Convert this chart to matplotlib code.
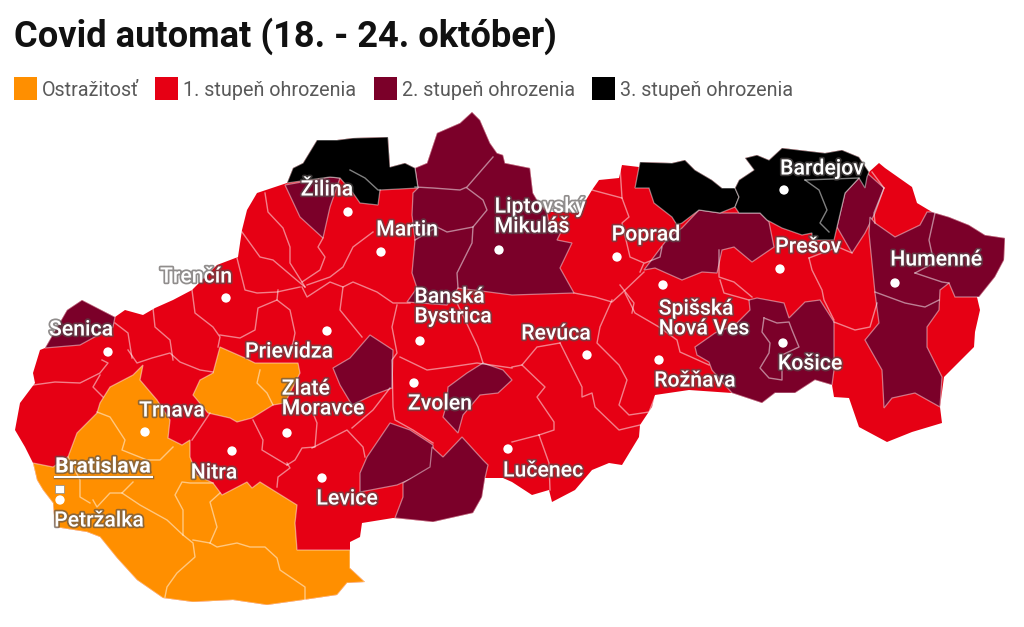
import matplotlib
matplotlib.use('Agg')
import matplotlib.pyplot as plt
import matplotlib.patheffects as pe
from matplotlib.patches import Polygon, Rectangle

plt.rcParams['font.family'] = ['Roboto', 'DejaVu Sans']

ORANGE = '#ff8f00'
RED = '#e60014'
DARK = '#7b0029'
BLACK = '#000000'

TITLE = 'Covid automat (18. - 24. október)'
LEGEND_LABELS = ['Ostražitosť', '1. stupeň ohrozenia', '2. stupeň ohrozenia', '3. stupeň ohrozenia']
LEGEND_COLORS = [ORANGE, RED, DARK, BLACK]
LEGEND_X = [14, 155, 374, 592]

# map outlines traced in image pixels
south_west = [(33, 463), (37, 480), (43, 490), (53, 503), (55, 527), (87, 532), (100, 537), (117, 558),
              (137, 580), (163, 598), (193, 602), (233, 600), (267, 605), (303, 600), (337, 595),
              (347, 583), (365, 582), (350, 568), (350, 550)]
south_centre = [(350, 542), (360, 537), (362, 523), (393, 518), (433, 522), (473, 513), (482, 497), (485, 478),
                (503, 478), (512, 482), (532, 495), (549, 490), (552, 502), (575, 490), (592, 470),
                (609, 463), (622, 465), (639, 437), (640, 425), (652, 407), (655, 395), (689, 390),
                (732, 393), (762, 403), (775, 393), (795, 393), (815, 380), (832, 385), (834, 397),
                (849, 398), (859, 427), (887, 442), (912, 432), (942, 423), (940, 407), (944, 377),
                (974, 347), (975, 332), (980, 310), (977, 297)]
east_north = [(979, 297), (995, 277), (1004, 260), (1005, 238), (985, 235), (969, 225), (949, 217),
              (932, 212), (917, 203), (912, 187), (885, 168), (879, 163), (869, 172), (859, 157),
              (842, 150), (825, 153), (782, 148), (769, 160), (757, 155), (745, 158), (754, 170),
              (739, 180), (735, 188), (722, 188), (712, 180), (695, 170), (685, 160), (672, 163),
              (640, 162), (639, 167), (622, 165), (619, 178), (599, 180), (592, 190), (583, 205),
              (578, 213), (565, 212), (549, 212), (540, 205), (533, 193), (530, 168), (505, 163), (503, 155),
              (497, 153), (490, 143), (480, 120), (472, 112), (460, 123), (437, 133), (427, 163),
              (415, 168), (405, 163), (390, 167), (388, 137), (353, 138), (337, 140),
              (317, 140), (303, 163), (293, 168), (287, 183)]
north_west = [(257, 193), (247, 210), (242, 230), (238, 257), (217, 265), (192, 290), (173, 300), (155, 308),
              (143, 315), (125, 310), (115, 317), (82, 300), (67, 310), (45, 348), (40, 350), (33, 373),
              (35, 383), (20, 403), (15, 430), (25, 447)]
COUNTRY = south_west + south_centre + east_north + north_west

ORANGE_AREAS = [
    [(143, 365), (140, 380), (157, 400), (170, 420), (168, 438), (182, 445), (190, 440), (190, 457), (197, 475),
     (213, 483), (222, 495), (247, 482), (252, 488), (260, 482), (297, 505), (295, 523), (297, 550)]
    + south_west[::-1]
    + [(53, 467), (68, 457), (77, 433), (97, 413), (100, 403), (110, 387), (133, 375)],
    [(220, 347), (245, 358), (255, 363), (298, 363), (300, 373), (285, 403), (273, 405), (252, 418), (237, 422),
     (230, 418), (208, 413), (193, 395), (200, 380), (213, 373)],
]
DARK_AREAS = [
    # Senica
    [(82, 300), (67, 310), (45, 348), (80, 345), (113, 327), (115, 317)],
    # Bytca
    [(285, 185), (330, 177), (340, 178), (330, 207), (323, 238), (300, 217)],
    # Orava and Liptov
    [(562, 230), (549, 225), (547, 212), (540, 205), (533, 193), (530, 168), (505, 163), (503, 155), (497, 153),
     (490, 143), (480, 120), (472, 112), (460, 123), (437, 133), (427, 163), (415, 168), (418, 188), (413, 193),
     (412, 215), (415, 240), (412, 273), (417, 288), (407, 302), (447, 305), (458, 288), (512, 295), (574, 293),
     (560, 268), (572, 243), (557, 240)],
    # Levoca, Sabinov
    [(682, 228), (699, 210), (720, 213), (739, 213), (760, 213), (769, 222), (774, 247), (752, 262), (734, 247),
     (722, 250), (717, 273), (702, 272), (682, 280), (655, 268), (644, 270), (659, 250), (669, 237)],
    # Stropkov
    [(859, 178), (867, 173), (884, 188), (875, 213), (865, 233), (852, 253), (837, 227), (845, 193)],
    # Humenne, Snina, Michalovce
    [(932, 212), (949, 217), (969, 225), (985, 235), (1005, 238), (1004, 260), (995, 277), (979, 297), (955, 297),
     (949, 283), (940, 290), (939, 310), (927, 327), (927, 347), (942, 377), (940, 407), (915, 393), (892, 398),
     (884, 408), (882, 370), (865, 340), (879, 323), (875, 293), (869, 233), (870, 217), (875, 223), (895, 237),
     (920, 225), (927, 212)],
    # Kosice okolie
    [(697, 355), (695, 347), (715, 333), (735, 325), (750, 310), (749, 300), (757, 298), (784, 303), (789, 318),
     (805, 302), (820, 300), (834, 322), (834, 370), (832, 385), (815, 380), (795, 393), (775, 393), (762, 403),
     (732, 393), (712, 370), (709, 362)],
    # Banska Stiavnica, Zarnovica
    [(333, 368), (350, 358), (370, 335), (393, 350), (392, 388), (373, 395), (352, 405), (340, 385)],
    # Krupina
    [(360, 473), (367, 457), (390, 423), (410, 430), (433, 445), (433, 467), (413, 478), (397, 485), (360, 492)],
    # Velky Krtis
    [(403, 483), (430, 467), (432, 447), (443, 457), (462, 437), (483, 460), (488, 465), (485, 478), (482, 497),
     (473, 513), (433, 522), (395, 518), (403, 497)],
    # Detva
    [(448, 387), (467, 373), (483, 363), (503, 370), (512, 380), (498, 393), (480, 395), (463, 415), (458, 433),
     (443, 417), (447, 403)],
]
BLACK_AREAS = [
    [(287, 183), (293, 168), (303, 163), (317, 140), (337, 140), (353, 138), (388, 137), (390, 167), (405, 163),
     (415, 168), (418, 188), (380, 190), (378, 205), (360, 203), (353, 193), (340, 178), (330, 177)],
    [(640, 162), (672, 163), (685, 160), (695, 170), (712, 180), (722, 188), (735, 188), (739, 197), (735, 207),
     (720, 213), (699, 210), (682, 223), (677, 225), (672, 217), (654, 203), (649, 188), (635, 188)],
    [(735, 188), (739, 180), (754, 170), (745, 158), (757, 155), (769, 160), (782, 148), (825, 153), (842, 150),
     (859, 157), (869, 172), (867, 177), (865, 188), (859, 178), (845, 193), (837, 227), (834, 240), (812, 240),
     (812, 233), (802, 235), (782, 228), (767, 220), (760, 213), (739, 213), (735, 207), (739, 197)],
]

BORDERS = [
    [(265, 193), (268, 212), (283, 228), (290, 247), (290, 263), (302, 282), (305, 287)],
    [(323, 238), (318, 247), (325, 257), (320, 270), (302, 282)],
    [(242, 232), (260, 257), (273, 260), (293, 277), (305, 287)],
    [(237, 258), (245, 290), (257, 293), (277, 292), (300, 287)],
    [(373, 232), (353, 247), (343, 267), (330, 277), (307, 285)],
    [(302, 287), (307, 297), (330, 282), (343, 287), (353, 282), (377, 292), (393, 303), (410, 303)],
    [(343, 287), (340, 310), (362, 337)],
    [(397, 305), (392, 327), (397, 353), (392, 360), (393, 407), (395, 420), (413, 430), (433, 443)],
    [(278, 290), (277, 300), (258, 308), (255, 330), (240, 338), (220, 335)],
    [(277, 300), (290, 310), (295, 333), (293, 343), (290, 350)],
    [(192, 290), (195, 313), (213, 327), (220, 337), (218, 347)],
    [(153, 308), (155, 327), (170, 340), (173, 360)],
    [(115, 323), (128, 333), (132, 358)],
    [(128, 350), (137, 363), (152, 358), (170, 353), (180, 362), (200, 370), (213, 372)],
    [(33, 385), (55, 382), (80, 383), (100, 373), (108, 363), (102, 360)],
    [(100, 375), (93, 387), (103, 397)],
    [(210, 413), (192, 440)],
    [(253, 420), (263, 440), (262, 450), (287, 465)],
    [(287, 465), (295, 460), (302, 448), (315, 447), (317, 423), (313, 413)],
    [(312, 448), (347, 430), (363, 447), (365, 457)],
    [(352, 428), (373, 410), (390, 388)],
    [(277, 487), (278, 477), (290, 468), (287, 463)],
    [(97, 412), (110, 417), (125, 440), (122, 450), (147, 460), (160, 460), (173, 447)],
    [(68, 457), (80, 480), (80, 497), (90, 503)],
    [(93, 500), (97, 507), (110, 493), (122, 493), (133, 482)],
    [(122, 493), (140, 505), (167, 520), (183, 535), (193, 543), (195, 557), (177, 573), (167, 587), (165, 597)],
    [(193, 540), (210, 543), (217, 547), (237, 543), (250, 547), (265, 547), (277, 558), (280, 570), (305, 587), (305, 600)],
    [(210, 543), (217, 527), (210, 502), (220, 493)],
    [(213, 483), (190, 483), (182, 482), (175, 495), (183, 510), (183, 535)],
    [(260, 370), (257, 383), (267, 393), (273, 405)],
    [(592, 190), (622, 198), (629, 217), (622, 223), (630, 257), (644, 263), (640, 272)],
    [(622, 198), (620, 167)],
    [(662, 247), (660, 257), (645, 263)],
    [(574, 293), (595, 297), (612, 302), (622, 293), (644, 272)],
    [(612, 300), (600, 327), (597, 343), (619, 365), (627, 380), (619, 405), (629, 415), (649, 412), (655, 397)],
    [(625, 293), (635, 313), (659, 327), (677, 340), (680, 352), (709, 365)],
    [(620, 285), (634, 303), (632, 313)],
    [(719, 250), (719, 277), (734, 282), (752, 297)],
    [(720, 280), (724, 293), (749, 300)],
    [(809, 258), (812, 270), (822, 290), (824, 300), (834, 320)],
    [(809, 258), (838, 247), (852, 253)],
    [(834, 322), (855, 330), (870, 327), (877, 303)],
    [(875, 292), (905, 303), (925, 307), (939, 300)],
    [(915, 273), (942, 282), (949, 283)],
    [(915, 273), (934, 263), (929, 240), (935, 213)],
    [(884, 188), (872, 172)],
    [(875, 223), (874, 213), (884, 188)],
    [(512, 367), (522, 365), (537, 347), (560, 343)],
    [(560, 343), (582, 387), (582, 397), (592, 393), (595, 407), (619, 430), (640, 425)],
    [(522, 365), (545, 387), (537, 397), (554, 422), (554, 430), (539, 435)],
    [(539, 435), (549, 463), (550, 490)],
    [(539, 435), (512, 442)],
    [(400, 357), (427, 370), (450, 367), (477, 363), (512, 368)],
    [(457, 303), (478, 347), (483, 363)],
    [(350, 170), (365, 178), (378, 190), (380, 190)],
    [(805, 180), (819, 190), (827, 210), (820, 223), (829, 232)],
    [(805, 180), (859, 178)],
    [(764, 318), (777, 323), (789, 322), (792, 330), (799, 347), (782, 355), (782, 380), (769, 378), (760, 368),
     (769, 353), (770, 343), (762, 332), (764, 318)],
    # Orava and Liptov
    [(415, 187), (433, 188), (460, 190), (467, 187), (493, 157)],
    [(467, 188), (483, 200), (487, 210), (473, 227), (447, 232), (437, 227), (415, 240)],
    [(473, 227), (472, 243), (457, 273), (458, 288)],
]

CITY_NAMES = ['Žilina', 'Martin', 'Liptovský\nMikuláš', 'Poprad', 'Bardejov', 'Prešov', 'Humenné', 'Trenčín',
              'Senica', 'Prievidza', 'Banská\nBystrica', 'Revúca', 'Spišská\nNová Ves', 'Rožňava', 'Košice',
              'Zlaté\nMoravce', 'Zvolen', 'Trnava', 'Nitra', 'Levice', 'Lučenec', 'Petržalka']
CITY_X = [348, 381, 499, 617, 784, 780, 895, 226, 108, 327, 420, 587, 663, 659, 783, 287, 414, 145, 232, 322, 508, 60]
CITY_Y = [212, 252, 250, 257, 190, 269, 283, 298, 352, 331, 341, 355, 285, 360, 343, 433, 383, 432, 451, 478, 449, 500]
LABEL_X = [327, 407, 540, 646, 822, 808, 936, 196, 81, 289, 453, 556, 704, 695, 810, 323, 440, 172, 214, 347, 543, 99]
LABEL_Y = [190, 230, 217, 235, 169, 247, 260, 277, 330, 352, 307, 334, 319, 381, 364, 399, 404, 411, 473, 499, 471, 521]


def add_area(ax, points, color):
    ax.add_patch(Polygon(points, closed=True, facecolor=color, edgecolor=(1, 1, 1, 0.45), linewidth=0.9))


def main():
    fig = plt.figure(figsize=(10.24, 6.27), dpi=100)
    ax = fig.add_axes([0, 0, 1, 1])
    ax.set_xlim(0, 1024)
    ax.set_ylim(627, 0)
    ax.axis('off')

    ax.add_patch(Polygon(COUNTRY, closed=True, facecolor=RED, edgecolor='none'))
    for area in ORANGE_AREAS:
        add_area(ax, area, ORANGE)
    for area in DARK_AREAS:
        add_area(ax, area, DARK)
    for area in BLACK_AREAS:
        add_area(ax, area, BLACK)
    for line in BORDERS:
        ax.plot([p[0] for p in line], [p[1] for p in line], color='white', alpha=0.5, lw=1.0, zorder=3)

    ax.text(14, 36, TITLE, fontsize=26.1, fontweight='bold', color='#111111', va='center', ha='left')
    for x, label, color in zip(LEGEND_X, LEGEND_LABELS, LEGEND_COLORS):
        ax.add_patch(Rectangle((x, 77), 23, 23, facecolor=color, edgecolor='none'))
        ax.text(x + 28, 90, label, fontsize=14.2, color='#595959', va='center', ha='left')

    halo = [pe.withStroke(linewidth=2.5, foreground='#55504f', alpha=0.65)]
    ax.scatter(CITY_X, CITY_Y, s=45, color='white', edgecolor='none', zorder=4)
    ax.add_patch(Rectangle((55, 485), 9, 8, facecolor='white', edgecolor='#888888', linewidth=0.5, zorder=4))
    for name, x, y in zip(CITY_NAMES, LABEL_X, LABEL_Y):
        ax.text(x, y, name, fontsize=15.3, color='white', fontweight='medium', ha='center', va='center',
                multialignment='left', linespacing=1.05, path_effects=halo, zorder=5)
    ax.text(103, 467, 'Bratislava', fontsize=15.3, color='white', fontweight='bold', ha='center', va='center',
            path_effects=halo, zorder=5)
    ax.plot([55, 152], [477, 477], color='white', lw=1.5, zorder=5, path_effects=halo)

    fig.savefig('out.png', dpi=100, facecolor='white')


if __name__ == "__main__":
    main()
